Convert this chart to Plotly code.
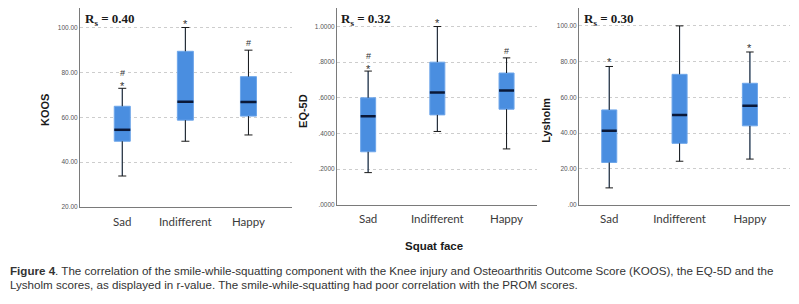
import plotly.graph_objects as go

categories = ["Sad", "Indifferent", "Happy"]

koos_lower = [33.8, 49.3, 52.1]
koos_q1 = [49.3, 58.7, 60.5]
koos_median = [54.4, 66.9, 66.8]
koos_q3 = [64.9, 89.4, 78.1]
koos_upper = [72.9, 100.0, 89.9]
koos_marks = [["*", "#"], ["*"], ["#"]]

eq5d_lower = [0.180, 0.411, 0.313]
eq5d_q1 = [0.297, 0.504, 0.536]
eq5d_median = [0.497, 0.630, 0.641]
eq5d_q3 = [0.600, 0.800, 0.739]
eq5d_upper = [0.750, 1.000, 0.824]
eq5d_marks = [["*", "#"], ["*"], ["#"]]

lys_lower = [9.4, 24.3, 25.5]
lys_q1 = [23.6, 34.3, 44.1]
lys_median = [41.3, 50.2, 55.3]
lys_q3 = [53.0, 72.9, 67.9]
lys_upper = [77.3, 100.0, 85.4]
lys_marks = [["*"], [], ["*"]]

rs_values = ["0.40", "0.32", "0.30"]
y_titles = ["KOOS", "EQ-5D", "Lysholm"]

koos_tickvals = [20, 40, 60, 80, 100]
koos_ticktext = ["20.00", "40.00", "60.00", "80.00", "100.00"]
eq5d_tickvals = [0.0, 0.2, 0.4, 0.6, 0.8, 1.0]
eq5d_ticktext = [".0000", ".2000", ".4000", ".6000", ".8000", "1.0000"]
lys_tickvals = [0, 20, 40, 60, 80, 100]
lys_ticktext = [".00", "20.00", "40.00", "60.00", "80.00", "100.00"]

x_title = "Squat face"
caption_1 = ("<b>Figure 4</b>. The correlation of the smile-while-squatting component with the Knee injury "
             "and Osteoarthritis Outcome Score (KOOS), the EQ-5D and the")
caption_2 = ("Lysholm scores, as displayed in r-value. The smile-while-squatting had poor correlation "
             "with the PROM scores.")

# the page body has an 8px margin, so the figure starts 8px in from the window corner
OFF = 8
W, H = 799 - OFF, 304 - OFF


def px_x(sx):
    return min(1.0, max(0.0, (sx - OFF) / W))


def px_y(sy):
    return min(1.0, max(0.0, 1 - (sy - OFF) / H))


panels = [
    dict(lower=koos_lower, q1=koos_q1, med=koos_median, q3=koos_q3, upper=koos_upper, marks=koos_marks,
         tv=koos_tickvals, tt=koos_ticktext, xpx=(80, 292), ypx=(209, 8), yr=[20, 108.7], xr=[-0.67, 2.69],
         bw=0.254, title_x=45, title_y=111, rs_x=83),
    dict(lower=eq5d_lower, q1=eq5d_q1, med=eq5d_median, q3=eq5d_q3, upper=eq5d_upper, marks=eq5d_marks,
         tv=eq5d_tickvals, tt=eq5d_ticktext, xpx=(337, 537), ypx=(206.7, 8), yr=[0, 1.104], xr=[-0.45, 2.44],
         bw=0.217, title_x=303, title_y=112, rs_x=339),
    dict(lower=lys_lower, q1=lys_q1, med=lys_median, q3=lys_q3, upper=lys_upper, marks=lys_marks,
         tv=lys_tickvals, tt=lys_ticktext, xpx=(579, 790), ypx=(206.7, 8), yr=[0, 110.0], xr=[-0.43, 2.57],
         bw=0.214, title_x=546, title_y=122, rs_x=582),
]

BOX_FILL = "#4a8ee0"
BOX_LINE = "#6ea6ea"
AXIS_COL = "#7a7a7a"
GRID_COL = "#cdcdcd"

fig = go.Figure()
layout = dict(width=W, height=H, margin=dict(l=0, r=0, t=0, b=0), autosize=False,
              paper_bgcolor="white", plot_bgcolor="white", showlegend=False)
annotations = []

for k, p in enumerate(panels):
    sfx = "" if k == 0 else str(k + 1)
    xa, ya = "x" + sfx, "y" + sfx
    xs = list(range(len(categories)))
    fig.add_trace(go.Box(x=xs, q1=p["q1"], median=p["med"], q3=p["q3"],
                         lowerfence=p["lower"], upperfence=p["upper"],
                         width=p["bw"], fillcolor=BOX_FILL, line=dict(color=BOX_LINE, width=1),
                         whiskerwidth=0, boxpoints=False, xaxis=xa, yaxis=ya, hoverinfo="skip"))
    h = p["bw"] / 2
    c = h / 2
    wx, wy, mx, my = [], [], [], []
    for i in xs:
        wx += [i, i, None, i, i, None, i - c, i + c, None, i - c, i + c, None]
        wy += [p["q3"][i], p["upper"][i], None, p["q1"][i], p["lower"][i], None,
               p["upper"][i], p["upper"][i], None, p["lower"][i], p["lower"][i], None]
        mx += [i - h, i + h, None]
        my += [p["med"][i], p["med"][i], None]
    fig.add_trace(go.Scatter(x=wx, y=wy, mode="lines", line=dict(color="#1a1a1a", width=1),
                             xaxis=xa, yaxis=ya, hoverinfo="skip"))
    fig.add_trace(go.Scatter(x=mx, y=my, mode="lines", line=dict(color="#0a1838", width=2.5),
                             xaxis=xa, yaxis=ya, hoverinfo="skip"))

    x0, x1 = p["xpx"]
    yb, yt = p["ypx"]
    layout["xaxis" + sfx] = dict(domain=[px_x(x0), px_x(x1)], range=p["xr"], anchor=ya,
                                 tickvals=xs, ticktext=categories, showgrid=False, zeroline=False,
                                 showline=True, linecolor=AXIS_COL, linewidth=1, ticks="",
                                 ticklabelstandoff=4,
                                 tickfont=dict(family="Lato, Open Sans, sans-serif", size=11.5, color="#3a3a3a"))
    layout["yaxis" + sfx] = dict(domain=[px_y(yb), px_y(yt)], range=p["yr"], anchor=xa,
                                 tickvals=p["tv"], ticktext=p["tt"], showgrid=True, gridcolor=GRID_COL,
                                 griddash="dot", gridwidth=1, zeroline=False,
                                 showline=True, linecolor=AXIS_COL, linewidth=1, ticks="",
                                 tickfont=dict(family="Liberation Sans, Arial, sans-serif", size=6.5, color="#555555"))

    # significance marks above the upper whiskers
    for i in xs:
        for j, m in enumerate(p["marks"][i]):
            single = len(p["marks"][i]) == 1
            base = 7 if single else (5 if j == 0 else 15)
            comp = 3 if m == "*" else 0
            annotations.append(dict(x=i, y=p["upper"][i], xref=xa, yref=ya, text=m, showarrow=False,
                                    xanchor="center", yanchor="middle", yshift=base - comp,
                                    font=dict(family="Liberation Sans, Arial, sans-serif",
                                              size=11 if m == "*" else 9, color="#333333")))

    # R_s label
    annotations.append(dict(x=px_x(p["rs_x"]), y=px_y(20), xref="paper", yref="paper",
                            xanchor="left", yanchor="middle", showarrow=False,
                            text="<b>R<sub>s</sub> = " + rs_values[k] + "</b>",
                            font=dict(family="Liberation Serif, Times New Roman, serif", size=13, color="#1a1a1a")))
    # y axis title
    annotations.append(dict(x=px_x(p["title_x"]), y=px_y(p["title_y"]), xref="paper", yref="paper",
                            xanchor="center", yanchor="middle", textangle=-90, showarrow=False,
                            text="<b>" + y_titles[k] + "</b>",
                            font=dict(family="Liberation Sans, Arial, sans-serif", size=11, color="#1a1a1a")))

annotations.append(dict(x=px_x(434), y=px_y(248), xref="paper", yref="paper", xanchor="center",
                        yanchor="middle", showarrow=False, text="<b>" + x_title + "</b>",
                        font=dict(family="Liberation Sans, Arial, sans-serif", size=11.5, color="#1a1a1a")))
for txt, yc in [(caption_1, 273), (caption_2, 287)]:
    annotations.append(dict(x=0, y=px_y(yc), xref="paper", yref="paper", xanchor="left",
                            yanchor="middle", showarrow=False, text=txt, align="left",
                            font=dict(family="Liberation Sans, Arial, sans-serif", size=11.6, color="#333333")))

layout["annotations"] = annotations
fig.update_layout(**layout)
fig.write_html("out.html")
